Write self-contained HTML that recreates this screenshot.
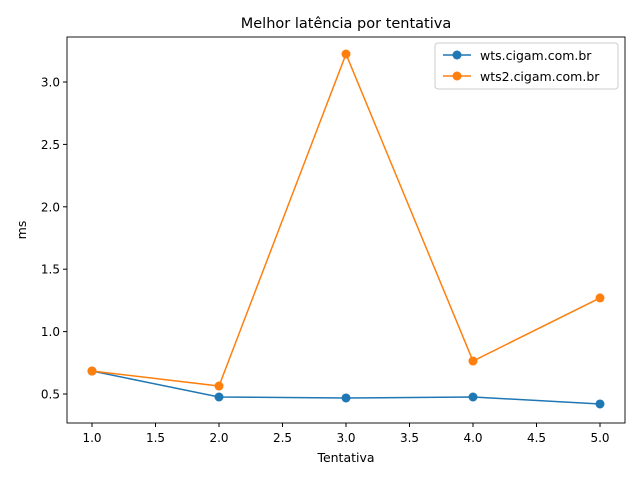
<!DOCTYPE html>
<html><head><meta charset="utf-8"><style>
body{margin:0;background:#fff}
svg{display:block;font-family:"DejaVu Sans","Liberation Sans",sans-serif}
</style></head><body>
<svg id="chart" width="640" height="480">
<rect width="640" height="480" fill="#fff"/>
<text x="346" y="28" font-size="14.5" text-anchor="middle">Melhor latência por tentativa</text>
<g id="axes"></g>
<rect x="67" y="37" width="558" height="386" fill="none" stroke="#000" stroke-width="0.9"/>
<text x="346" y="462" font-size="12.5" text-anchor="middle">Tentativa</text>
<text x="26" y="230" font-size="12.5" text-anchor="middle" transform="rotate(-90 26 230)">ms</text>
<g>
<rect x="435" y="43" width="183" height="46" rx="3" fill="#fff" stroke="#ccc" stroke-width="1"/>
<g><line x1="443" x2="471" y1="55" y2="55" stroke="#1f77b4" stroke-width="1.5"/><circle cx="457" cy="55" r="4.5" fill="#1f77b4"/><text x="480" y="60" font-size="12.5">wts.cigam.com.br</text></g>
<g><line x1="443" x2="471" y1="76" y2="76" stroke="#ff7f0e" stroke-width="1.5"/><circle cx="457" cy="76" r="4.5" fill="#ff7f0e"/><text x="480" y="81" font-size="12.5">wts2.cigam.com.br</text></g>
</g>
</svg>
<script>
const attempts=[1,2,3,4,5];
const wtsValues=[0.684,0.476,0.468,0.476,0.42];
const wts2Values=[0.684,0.564,3.224,0.764,1.27];
const xTicks=[1.0,1.5,2.0,2.5,3.0,3.5,4.0,4.5,5.0];
const yTicks=[0.5,1.0,1.5,2.0,2.5,3.0];
const NS="http://www.w3.org/2000/svg";
const sx=v=>92+(v-1)*127;
const sy=v=>394-(v-0.5)*124.8;
const g=document.getElementById('axes');
function mk(t,a){const e=document.createElementNS(NS,t);for(const k in a)e.setAttribute(k,a[k]);g.appendChild(e);return e;}
xTicks.forEach(v=>{
 const l=mk('line',{x1:sx(v),x2:sx(v),y1:423,y2:427,stroke:'#000'});
 
 
 const t=mk('text',{x:sx(v),y:442,'font-size':12,'text-anchor':'middle'});t.textContent=v.toFixed(1);
 
 
});
yTicks.forEach(v=>{
 const l=mk('line',{x1:63,x2:67,y1:sy(v),y2:sy(v),stroke:'#000'});
 
 
 const t=mk('text',{x:60,y:sy(v)+4.5,'font-size':12,'text-anchor':'end'});t.textContent=v.toFixed(1);
 
 
});
function series(vals,color,name){
 const p=mk('polyline',{points:vals.map((v,i)=>sx(attempts[i])+','+sy(v)).join(' '),fill:'none',stroke:color,'stroke-width':1.5});
 
 
 vals.forEach((v,i)=>{
  const c=mk('circle',{cx:sx(attempts[i]),cy:sy(v),r:4.5,fill:color});
  
  
 });
}
series(wtsValues,'#1f77b4','wts');
series(wts2Values,'#ff7f0e','wts2');
</script>
</body></html>
